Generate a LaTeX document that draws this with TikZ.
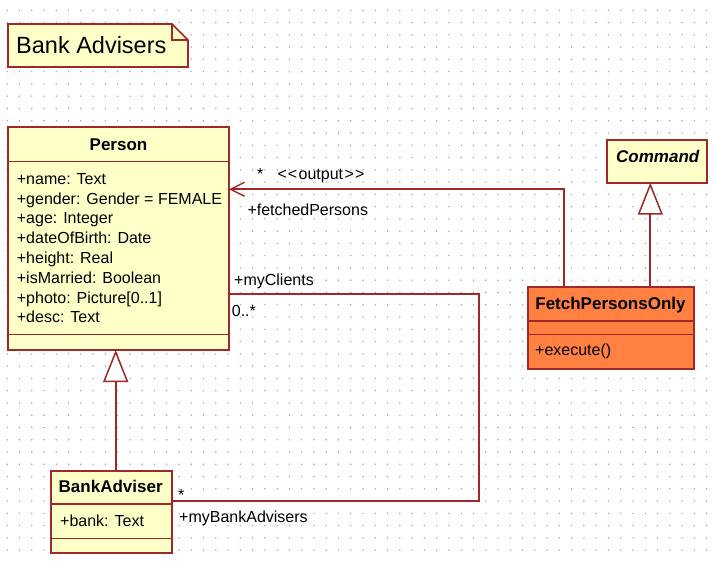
\documentclass[tikz,border=0pt]{standalone}
\usepackage{fontspec}
\setmainfont{Liberation Sans}
\usetikzlibrary{arrows.meta}
\definecolor{umlline}{RGB}{160,40,40}
\definecolor{umlfill}{RGB}{255,255,200}
\definecolor{umlorange}{RGB}{255,128,64}
\definecolor{dotc}{RGB}{165,165,165}
\tikzset{
  cls/.style={draw=umlline, line width=1.7pt, rectangle, inner sep=0pt, outer sep=0pt, anchor=north west},
  sepline/.style={draw=umlline, line width=1.6pt},
  conn/.style={draw=umlline, line width=1.7pt},
  gen/.style={conn, -{Triangle[open, length=32pt, width=25pt, fill=white, line width=1.5pt]}},
  nav/.style={conn, -{Straight Barb[length=14pt, width=14pt, line width=1.4pt]}},
  txt/.style={inner sep=0pt, anchor=base west, font=\fontsize{16}{19}\selectfont},
  ttl/.style={inner sep=0pt, anchor=base west, font=\fontsize{17}{20}\selectfont\bfseries},
}
\begin{document}
\begin{tikzpicture}[x=1pt, y=-1pt]
\fill[white] (0,0) rectangle (712,561);
\useasboundingbox (0,0) rectangle (712,561);
% grid of dots
\foreach \i in {0,...,57} {
  \foreach \j in {0,...,45} {
    \fill[dotc] ({7.2+12.27*\i},{10.3+12.27*\j}) circle (0.8pt);
  }
}
% note
\filldraw[fill=umlfill, draw=umlline, line width=1.7pt, line join=miter]
  (8,24) -- (172,24) -- (188,40) -- (188,67) -- (8,67) -- cycle;
\draw[umlline, line width=1.4pt] (172,24) -- (172,40) -- (188,40);
\node[inner sep=0pt, anchor=base west, font=\fontsize{23.5}{26}\selectfont] (title) at (16,53.3) {Bank Advisers};

% Person
\node[cls, fill=umlfill, minimum width=221pt, minimum height=223pt] (person) at (8,127) {};
\draw[sepline] ([yshift=-34.7pt]person.north west) -- ([yshift=-34.7pt]person.north east);
\draw[sepline] ([yshift=-207.3pt]person.north west) -- ([yshift=-207.3pt]person.north east);
\node[ttl, anchor=base] (personname) at (118.5,150.7) {Person};
\foreach \t [count=\k from 0] in {+name: Text, +gender: Gender = FEMALE, +age: Integer, +dateOfBirth: Date, +height: Real, +isMarried: Boolean, +photo: Picture[0..1], +desc: Text} {
  \node[txt] (pattr\k) at (16.7,{184.3+19.8*\k}) {\t};
}

% Command
\node[cls, fill=umlfill, minimum width=100pt, minimum height=42.7pt] (command) at (607.3,140) {};
\node[ttl, font=\fontsize{17}{20}\selectfont\bfseries\itshape] (commandname) at (616,162.3) {Command};

% FetchPersonsOnly
\node[cls, fill=umlorange, minimum width=166.6pt, minimum height=82.6pt] (fetch) at (527.7,286.7) {};
\draw[sepline] ([yshift=-34.3pt]fetch.north west) -- ([yshift=-34.3pt]fetch.north east);
\draw[sepline] ([yshift=-47.6pt]fetch.north west) -- ([yshift=-47.6pt]fetch.north east);
\node[ttl] (fetchname) at (535.2,309.3) {FetchPersonsOnly};
\node[txt] (fetchop) at (535,355) {+execute()};

% BankAdviser
\node[cls, fill=umlfill, minimum width=120.7pt, minimum height=82.6pt] (bank) at (51,470.7) {};
\draw[sepline] ([yshift=-33.3pt]bank.north west) -- ([yshift=-33.3pt]bank.north east);
\draw[sepline] ([yshift=-67.6pt]bank.north west) -- ([yshift=-67.6pt]bank.north east);
\node[ttl] (bankname) at (58.5,492.3) {BankAdviser};
\node[txt] (bankattr) at (60,526.7) {+bank: Text};

% generalizations
\draw[gen] ([xshift=122.6pt]fetch.north west) -- ([xshift=43pt]command.south west);
\draw[gen] ([xshift=64.7pt]bank.north west) -- ([xshift=107.7pt]person.south west);

% output association
\draw[nav] ([xshift=36.6pt]fetch.north west) |- ([yshift=-62.3pt]person.north east);
\node[txt] (outmult) at (257,180) {*};
\node[txt] (outster) at (277.3,179.3) {<\kern1pt<\kern1.5pt output\kern1.5pt>\kern1pt>};
\node[txt] (outrole) at (247.3,215.3) {+fetchedPersons};

% myClients association
\coordinate (mcorner) at (479.3,400);
\draw[conn] ([yshift=-167pt]person.north east) -| (mcorner) |- ([yshift=-30.3pt]bank.north east);
\node[txt] (clrole) at (234,286) {+myClients};
\node[txt] (clmult) at (231.7,316.7) {0..*};
\node[txt] (bamult) at (178,500) {*};
\node[txt] (barole) at (179,522.7) {+myBankAdvisers};
\end{tikzpicture}
\end{document}
